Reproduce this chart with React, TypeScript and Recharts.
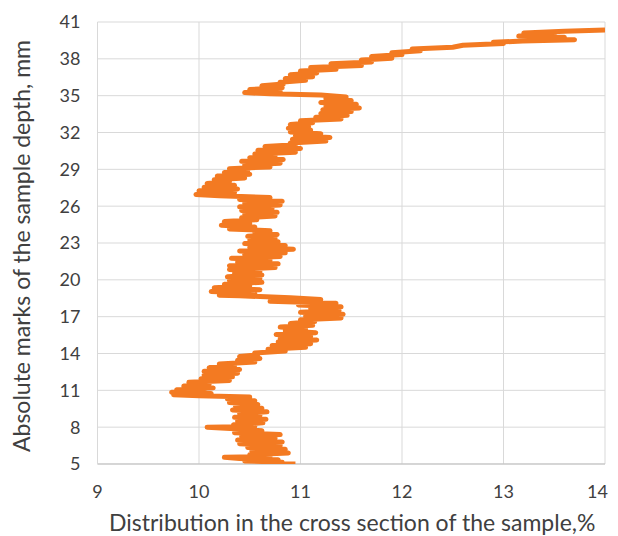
import { ScatterChart, Scatter, XAxis, YAxis, CartesianGrid, Label } from "recharts";

// depth marks (mm), read bottom to top
const depthMarks = [
  5.0, 5.05, 5.15, 5.25, 5.35, 5.45, 5.55, 5.6, 5.75, 5.9,
  6.05, 6.2, 6.35, 6.5, 6.65, 6.8, 6.95, 7.1, 7.25, 7.4,
  7.55, 7.7, 7.85, 8.0, 8.05, 8.2, 8.35, 8.5, 8.65, 8.8,
  8.95, 9.1, 9.25, 9.4, 9.55, 9.7, 9.85, 10.0, 10.15, 10.3,
  10.45, 10.55, 10.65, 10.75, 10.85, 10.95, 11.05, 11.2, 11.35, 11.5,
  11.65, 11.8, 11.95, 12.1, 12.25, 12.4, 12.55, 12.7, 12.85, 13.0,
  13.15, 13.3, 13.45, 13.6, 13.75, 13.9, 14.05, 14.2, 14.35, 14.5,
  14.65, 14.8, 14.95, 15.1, 15.25, 15.4, 15.55, 15.7, 15.85, 16.0,
  16.15, 16.3, 16.45, 16.6, 16.75, 16.9, 17.05, 17.2, 17.35, 17.5,
  17.65, 17.8, 17.95, 18.1, 18.25, 18.4, 18.55, 18.7, 18.75, 18.9,
  19.05, 19.2, 19.35, 19.5, 19.65, 19.8, 19.95, 20.1, 20.25, 20.4,
  20.55, 20.7, 20.85, 21.0, 21.15, 21.3, 21.45, 21.6, 21.75, 21.9,
  22.05, 22.2, 22.35, 22.5, 22.65, 22.8, 22.95, 23.1, 23.25, 23.4,
  23.55, 23.7, 23.85, 24.0, 24.15, 24.3, 24.45, 24.6, 24.75, 24.9,
  25.05, 25.2, 25.35, 25.5, 25.65, 25.8, 25.95, 26.1, 26.25, 26.4,
  26.55, 26.7, 26.85, 26.95, 27.1, 27.25, 27.4, 27.55, 27.7, 27.85,
  28.0, 28.15, 28.3, 28.45, 28.6, 28.75, 28.9, 29.05, 29.2, 29.35,
  29.5, 29.65, 29.8, 29.95, 30.1, 30.25, 30.4, 30.55, 30.7, 30.85,
  31.0, 31.15, 31.3, 31.45, 31.6, 31.75, 31.9, 32.05, 32.2, 32.35,
  32.5, 32.65, 32.8, 32.95, 33.1, 33.25, 33.4, 33.55, 33.7, 33.85,
  34.0, 34.15, 34.3, 34.45, 34.6, 34.75, 34.9, 35.05, 35.15, 35.25,
  35.35, 35.5, 35.65, 35.8, 35.95, 36.1, 36.25, 36.4, 36.55, 36.7,
  36.85, 37.0, 37.15, 37.3, 37.45, 37.6, 37.75, 37.9, 38.05, 38.2,
  38.35, 38.5, 38.65, 38.8, 38.95, 39.1, 39.25, 39.35, 39.45, 39.55,
  39.65, 39.75, 39.85, 40.0, 40.1, 40.25, 40.35,
];

// distribution in the cross section (%), same order as depthMarks
const distribution = [
  10.95, 10.68, 10.82, 10.45, 10.78, 10.4, 10.25, 10.7, 10.5, 10.88,
  10.52, 10.85, 10.48, 10.8, 10.4, 10.82, 10.38, 10.75, 10.42, 10.8,
  10.35, 10.62, 10.4, 10.08, 10.55, 10.34, 10.63, 10.38, 10.66, 10.35,
  10.6, 10.4, 10.67, 10.33, 10.62, 10.36, 10.58, 10.3, 10.55, 10.28,
  10.5, 10.0, 9.75, 10.12, 9.73, 10.05, 9.78, 10.14, 9.85, 10.1,
  9.9, 10.3, 10.02, 10.33, 10.05, 10.38, 10.05, 10.4, 10.1, 10.35,
  10.2, 10.55, 10.38, 10.6, 10.4, 10.58, 10.55, 10.85, 10.68, 11.05,
  10.72, 11.1, 10.78, 11.16, 10.8, 11.1, 10.76, 11.15, 10.85, 11.05,
  10.8, 11.12, 10.9, 11.14, 11.0, 11.4, 11.05, 11.42, 11.0, 11.38,
  11.1, 11.4, 10.98, 11.35, 10.7, 11.2, 10.9, 10.4, 10.2, 10.55,
  10.12, 10.6, 10.15, 10.5, 10.25, 10.62, 10.3, 10.6, 10.28, 10.62,
  10.35, 10.6, 10.3, 10.75, 10.3, 10.78, 10.38, 10.7, 10.32, 10.8,
  10.45, 10.85, 10.4, 10.93, 10.5, 10.85, 10.45, 10.78, 10.5, 10.75,
  10.48, 10.77, 10.55, 10.7, 10.3, 10.55, 10.22, 10.5, 10.25, 10.57,
  10.42, 10.75, 10.45, 10.77, 10.42, 10.72, 10.4, 10.8, 10.45, 10.82,
  10.4, 10.7, 10.2, 9.97, 10.35, 10.0, 10.38, 10.05, 10.35, 10.08,
  10.3, 10.15, 10.45, 10.18, 10.5, 10.25, 10.48, 10.3, 10.7, 10.45,
  10.8, 10.42, 10.83, 10.5, 10.75, 10.55, 10.95, 10.58, 11.0, 10.65,
  10.95, 10.9, 11.25, 10.92, 11.29, 10.95, 11.2, 10.9, 11.1, 10.88,
  11.08, 10.9, 11.12, 11.0, 11.4, 11.15, 11.46, 11.2, 11.5, 11.22,
  11.58, 11.25, 11.55, 11.2, 11.5, 11.25, 11.45, 11.2, 10.7, 10.45,
  10.8, 10.5, 10.82, 10.62, 10.83, 10.8, 11.05, 10.85, 11.12, 10.9,
  11.16, 11.0, 11.35, 11.1, 11.6, 11.3, 11.7, 11.6, 11.9, 11.7,
  12.0, 11.9, 12.18, 12.1, 12.5, 12.6, 13.0, 12.9, 13.19, 13.7,
  13.2, 13.6, 13.15, 13.5, 13.2, 13.6, 14.0,
];

const xTicks = [9, 10, 11, 12, 13, 14];
const yTicks = [5, 8, 11, 14, 17, 20, 23, 26, 29, 32, 35, 38, 41];

const points = depthMarks.map((depth, i) => ({ depth, value: distribution[i] }));

const FONT = "Lato, sans-serif";
const TEXT_COLOR = "#404040";
const tickStyle = { fontSize: 18, fill: TEXT_COLOR, fontFamily: FONT };

// last x tick sits at the chart edge, so anchor it on its right side
function XTick({ x, y, payload }: any) {
  const last = payload.value === xTicks[xTicks.length - 1];
  return (
    <text
      x={last ? x + 3 : x}
      y={y}
      dy="0.71em"
      textAnchor={last ? "end" : "middle"}
      {...tickStyle}
    >
      {payload.value}
    </text>
  );
}

export default function App() {
  return (
    <ScatterChart
      width={610}
      height={528}
      margin={{ top: 14, right: 13, bottom: 0, left: 0 }}
    >
      <CartesianGrid stroke="#d9d9d9" strokeWidth={1} />
      <XAxis
        type="number"
        dataKey="value"
        domain={[9, 14]}
        ticks={xTicks}
        height={72}
        axisLine={{ stroke: "#bfbfbf" }}
        tickLine={false}
        tickMargin={15}
        tick={<XTick />}
        allowDataOverflow
      >
        <Label
          content={({ viewBox }: any) => (
            <text
              x={viewBox.x + viewBox.width / 2 + 1}
              y={523}
              textAnchor="middle"
              fontSize={23}
              fontFamily={FONT}
              fill={TEXT_COLOR}
            >
              Distribution in the cross section of the sample,%
            </text>
          )}
        />
      </XAxis>
      <YAxis
        type="number"
        dataKey="depth"
        domain={[5, 41]}
        ticks={yTicks}
        width={89.5}
        axisLine={{ stroke: "#d9d9d9" }}
        tickLine={false}
        tickMargin={11}
        tick={tickStyle}
        allowDataOverflow
      >
        <Label
          content={({ viewBox }: any) => {
            const cy = viewBox.y + viewBox.height / 2 + 3;
            return (
              <text
                x={22}
                y={cy}
                transform={`rotate(-90 22 ${cy})`}
                textAnchor="middle"
                fontSize={23}
                fontFamily={FONT}
                fill={TEXT_COLOR}
              >
                Absolute marks of the sample depth, mm
              </text>
            );
          }}
        />
      </YAxis>
      <Scatter
        data={points}
        line={{ stroke: "#f37a22", strokeWidth: 5, strokeLinejoin: "round" }}
        lineJointType="linear"
        shape={() => <g />}
        isAnimationActive={false}
      />
    </ScatterChart>
  );
}
